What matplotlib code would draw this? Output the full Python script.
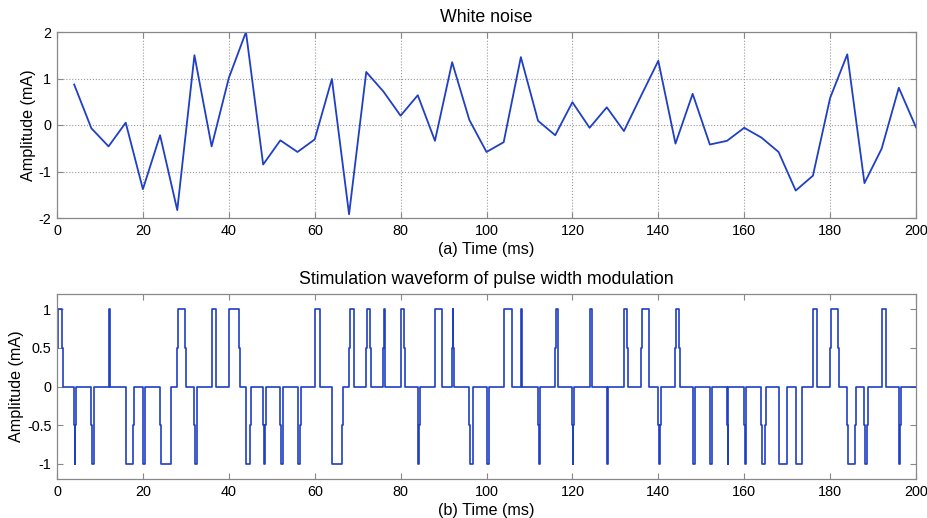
import numpy as np
import matplotlib
matplotlib.use("Agg")
import matplotlib.pyplot as plt

plt.rcParams['font.family'] = ['Liberation Sans', 'DejaVu Sans']
plt.rcParams['axes.unicode_minus'] = False

# white noise samples, every 4 ms
noise_t = [4, 8, 12, 16, 20, 24, 28, 32, 36, 40, 44, 48, 52, 56, 60, 64, 68,
           72, 76, 80, 84, 88, 92, 96, 100, 104, 108, 112, 116, 120, 124, 128,
           132, 136, 140, 144, 148, 152, 156, 160, 164, 168, 172, 176, 180, 184,
           188, 192, 196, 200]
noise_amp = [0.87, -0.07, -0.46, 0.05, -1.38, -0.22, -1.83, 1.50, -0.46, 1.01,
             2.00, -0.85, -0.33, -0.58, -0.31, 0.99, -1.92, 1.14, 0.72, 0.20,
             0.64, -0.34, 1.35, 0.11, -0.58, -0.37, 1.46, 0.09, -0.22, 0.49,
             -0.06, 0.38, -0.13, 0.63, 1.38, -0.40, 0.67, -0.42, -0.34, -0.06,
             -0.27, -0.58, -1.41, -1.09, 0.58, 1.52, -1.25, -0.51, 0.80, -0.05]

# PWM: one pulse per 4 ms period, signed width in ms
period_start = [4 * k for k in range(50)]
pulse_width = [1.2, -0.3, -0.6, 0.3, -1.8, -0.4, -2.5, 1.9, -0.5, 1.0,
               2.4, -1.0, -0.5, -0.6, -0.6, 1.2, -2.4, 1.1, 0.9, 0.3,
               0.8, -0.4, 1.6, 0.2, -0.8, -0.5, 1.9, 0.2, -0.4, 0.6,
               -0.2, 0.5, -0.2, 0.8, 1.8, -0.5, 0.9, -0.5, -0.4, -0.2,
               -0.4, -0.9, -1.9, -1.4, 0.9, 1.9, -1.8, -0.6, 1.0, -0.3]

color = '#1f3fc4'
frame = '#888888'

# build the step waveform (edges pass through +-0.5 briefly)
d = 0.12
px, py = [0.0], [0.0]
for s, w in zip(period_start, pulse_width):
    sg = np.sign(w)
    e = s + abs(w)
    px += [s, s, s + d, s + d, e, e, e + d, e + d]
    py += [0, 0.5 * sg, 0.5 * sg, sg, sg, 0.5 * sg, 0.5 * sg, 0]
px.append(200.0)
py.append(0.0)

fig = plt.figure(figsize=(9.28, 5.18), dpi=100)
ax1 = fig.add_axes([57 / 928, 1 - 218 / 518, 859 / 928, 186 / 518])
ax2 = fig.add_axes([57 / 928, 1 - 479 / 518, 859 / 928, 185 / 518])

ax1.plot(noise_t, noise_amp, color=color, lw=1.3)
ax1.set_xlim(0, 200)
ax1.set_ylim(-2, 2)
ax1.set_yticks([-2, -1, 0, 1, 2])
ax1.grid(True, ls=':', color='#999999', lw=0.8)
ax1.set_title('White noise', fontsize=12.8, pad=7)
ax1.set_xlabel('(a) Time (ms)', fontsize=11.6, labelpad=3)
ax1.set_ylabel('Amplitude (mA)', fontsize=11.6, labelpad=2)

ax2.plot(px, py, color=color, lw=1.2)
ax2.set_xlim(0, 200)
ax2.set_ylim(-1.2, 1.2)
ax2.set_yticks([-1, -0.5, 0, 0.5, 1])
ax2.set_yticklabels(['-1', '-0.5', '0', '0.5', '1'])
ax2.set_title('Stimulation waveform of pulse width modulation', fontsize=12.8, pad=7)
ax2.set_xlabel('(b) Time (ms)', fontsize=11.6, labelpad=3)
ax2.set_ylabel('Amplitude (mA)', fontsize=11.6, labelpad=2)

for ax in (ax1, ax2):
    ax.set_xticks(np.arange(0, 201, 20))
    ax.tick_params(direction='in', top=True, right=True, length=4,
                   color=frame, labelsize=10.4, pad=4)
    for sp in ax.spines.values():
        sp.set_color(frame)
        sp.set_linewidth(0.9)

fig.savefig('out.png', dpi=100)
